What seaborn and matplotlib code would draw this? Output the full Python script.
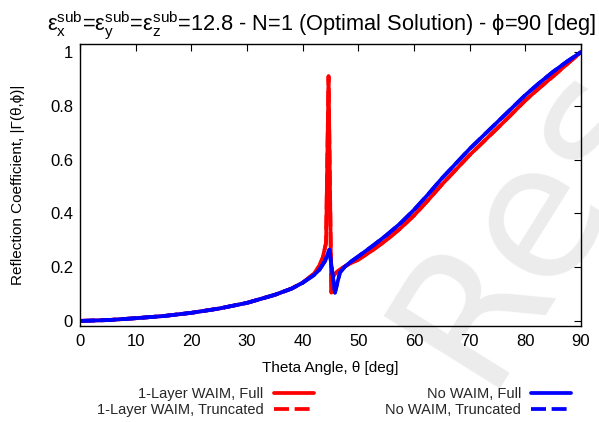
import matplotlib
matplotlib.use("Agg")
import matplotlib.pyplot as plt
import seaborn as sns

# ---- data ----
theta_red = [0, 5, 10, 15, 20, 25, 30, 35, 38, 40, 42, 43, 43.6, 44.2, 44.65,
             45.15, 45.5, 46.0, 47.0, 48.0, 50, 52.5, 55, 57.5, 60, 62.5, 65, 67.5,
             70, 72.5, 75, 77.5, 80, 82.5, 85, 87.5, 90]
gamma_red_full = [0.0, 0.003, 0.010, 0.018, 0.030, 0.046, 0.067, 0.097, 0.120, 0.142,
                  0.175, 0.205, 0.235, 0.290, 0.910, 0.105, 0.165, 0.180, 0.195, 0.208,
                  0.228, 0.262, 0.300, 0.343, 0.392, 0.448, 0.507, 0.562, 0.617, 0.667,
                  0.717, 0.768, 0.820, 0.866, 0.910, 0.955, 1.0]
gamma_red_trunc = [0.0, 0.003, 0.010, 0.018, 0.030, 0.046, 0.067, 0.097, 0.120, 0.142,
                   0.175, 0.205, 0.235, 0.290, 0.910, 0.105, 0.165, 0.180, 0.195, 0.208,
                   0.228, 0.262, 0.300, 0.343, 0.392, 0.448, 0.507, 0.562, 0.617, 0.667,
                   0.717, 0.768, 0.820, 0.866, 0.910, 0.955, 1.0]

theta_blue = [0, 5, 10, 15, 20, 25, 30, 35, 38, 40, 42, 43, 44.0, 44.8, 45.8,
              46.7, 47.5, 48.5, 50, 52.5, 55, 57.5, 60, 62.5, 65, 67.5, 70, 72.5,
              75, 77.5, 80, 82.5, 85, 87.5, 90]
gamma_blue_full = [0.0, 0.003, 0.010, 0.018, 0.030, 0.046, 0.067, 0.097, 0.120, 0.142,
                   0.170, 0.190, 0.222, 0.265, 0.105, 0.180, 0.200, 0.218, 0.240, 0.278,
                   0.318, 0.362, 0.413, 0.470, 0.530, 0.585, 0.640, 0.690, 0.740, 0.790,
                   0.840, 0.885, 0.927, 0.965, 1.0]
gamma_blue_trunc = [0.0, 0.003, 0.010, 0.018, 0.030, 0.046, 0.067, 0.097, 0.120, 0.142,
                    0.170, 0.190, 0.222, 0.265, 0.105, 0.180, 0.200, 0.218, 0.240, 0.278,
                    0.318, 0.362, 0.413, 0.470, 0.530, 0.585, 0.640, 0.690, 0.740, 0.790,
                    0.840, 0.885, 0.927, 0.965, 1.0]

labels = ["1-Layer WAIM, Full", "1-Layer WAIM, Truncated",
          "No WAIM, Full", "No WAIM, Truncated"]
x_ticks = [0, 10, 20, 30, 40, 50, 60, 70, 80, 90]
y_ticks = [0, 0.2, 0.4, 0.6, 0.8, 1]
y_tick_labels = ["0", "0.2", "0.4", "0.6", "0.8", "1"]

# ---- style ----
sns.set_theme(style="white")
plt.rcParams["font.family"] = ["Liberation Sans", "DejaVu Sans"]
plt.rcParams["mathtext.fontset"] = "custom"
plt.rcParams["mathtext.rm"] = "Liberation Sans"
plt.rcParams["mathtext.it"] = "Liberation Sans"
plt.rcParams["mathtext.bf"] = "Liberation Sans:bold"

fig = plt.figure(figsize=(5.99, 4.22), dpi=100)
fig.patch.set_facecolor("white")

# watermark (behind everything)
fig.text(0.805, 0.08, "Research", fontsize=135, color="#ececec", rotation=58,
         rotation_mode="anchor", ha="left", va="baseline", zorder=-5,
         family="DejaVu Sans")

ax = fig.add_axes([80 / 599, 1 - 326 / 422, 501 / 599, 282 / 422])
ax.patch.set_alpha(0)

lw = 2.7
sns.lineplot(x=theta_red, y=gamma_red_full, color="#ff0000", linewidth=lw,
             label=labels[0], ax=ax, sort=False)
sns.lineplot(x=theta_red, y=gamma_red_trunc, color="#ff0000", linewidth=lw,
             linestyle=(0, (4, 1.5)), label=labels[1], ax=ax, sort=False)
sns.lineplot(x=theta_blue, y=gamma_blue_full, color="#0000ff", linewidth=lw,
             label=labels[2], ax=ax, sort=False)
sns.lineplot(x=theta_blue, y=gamma_blue_trunc, color="#0000ff", linewidth=lw,
             linestyle=(0, (4, 1.5)), label=labels[3], ax=ax, sort=False)

ax.set_xlim(0, 90)
ax.set_ylim(-0.019, 1.03)
ax.set_xticks(x_ticks)
ax.set_xticklabels([str(t) for t in x_ticks])
ax.set_yticks(y_ticks)
ax.set_yticklabels(y_tick_labels)
ax.tick_params(direction="in", length=5, width=0.8, top=True, right=True,
               labelsize=12, colors="black")
ax.tick_params(axis="x", pad=6)
ax.tick_params(axis="y", pad=5)
for s in ax.spines.values():
    s.set_visible(True)
    s.set_color("black")
    s.set_linewidth(1.0)

ax.set_xlabel("Theta Angle, θ [deg]", fontsize=11, color="black")
ax.xaxis.set_label_coords(0.5, -0.124)
ax.set_ylabel("Reflection Coefficient, |Γ(θ,ϕ)|", fontsize=11, color="black")
ax.yaxis.set_label_coords(-0.109, 0.5)
ax.set_title(r"$\mathregular{ε_x^{sub}}$=$\mathregular{ε_y^{sub}}$=$\mathregular{ε_z^{sub}}$"
             "=12.8 - N=1 (Optimal Solution) - ϕ=90 [deg]",
             fontsize=15.7, color="black", pad=9, x=0.481)

ax.get_legend().remove()
handles, labs = ax.get_legend_handles_labels()
fig.legend(handles, labs, ncol=2, markerfirst=False, frameon=False,
           loc="upper left", bbox_to_anchor=(97 / 599, 1 - 387 / 422),
           fontsize=10.5, handlelength=2.74, handletextpad=0.68, columnspacing=4.9,
           labelspacing=0.12, borderpad=0, borderaxespad=0)

fig.savefig("out.png", dpi=100, facecolor="white")
